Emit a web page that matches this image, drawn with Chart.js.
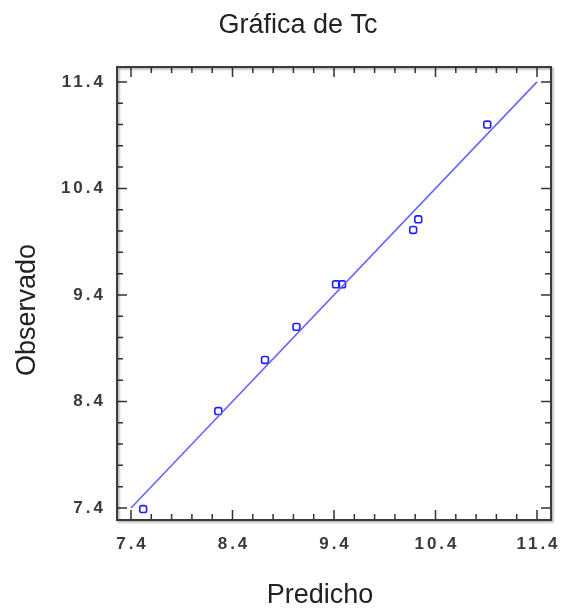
<!DOCTYPE html>
<html>
<head>
    <meta charset="utf-8">
    <title>Gráfica de Tc</title>
    <script src="https://cdn.jsdelivr.net/npm/chart.js"></script>
    <style>
        body { margin: 0; background: #fff; }
        #wrap { width: 563px; height: 610px; }
    </style>
</head>
<body>
    <div id="wrap"><canvas id="myChart" width="563" height="610"></canvas></div>
    <script>
        // predicted vs observed values
        const predicho = [7.52, 8.26, 8.72, 9.03, 9.42, 9.48, 10.18, 10.23, 10.91];
        const observado = [7.39, 8.31, 8.79, 9.10, 9.50, 9.50, 10.01, 10.11, 11.00];
        // fitted line y = x
        const lineX = [7.4, 11.4];
        const lineY = [7.4, 11.4];
        const tickValues = [7.4, 8.4, 9.4, 10.4, 11.4];
        const titleText = 'Gráfica de Tc';
        const xTitle = 'Predicho';
        const yTitle = 'Observado';

        const points = predicho.map((v, i) => ({ x: v, y: observado[i] }));
        const fit = lineX.map((v, i) => ({ x: v, y: lineY[i] }));

        function minorTicks() {
            let out = [];
            for (let i = 0; i < tickValues.length - 1; i++) {
                let step = (tickValues[i + 1] - tickValues[i]) / 5;
                for (let k = 1; k < 5; k++) out.push(tickValues[i] + k * step);
            }
            return out;
        }

        const frame = {
            id: 'frame',
            beforeDraw(chart) {
                chart.ctx.letterSpacing = '3px';
            },
            beforeDatasetsDraw(chart) {
                chart.ctx.letterSpacing = '0px';
                const { ctx, chartArea: a, scales } = chart;
                ctx.save();
                ctx.strokeStyle = '#333';
                ctx.lineWidth = 1.5;
                ctx.beginPath();
                const minor = minorTicks();
                const tick = (vals, len) => {
                    vals.forEach(v => {
                        let px = scales.x.getPixelForValue(v);
                        ctx.moveTo(px, a.bottom); ctx.lineTo(px, a.bottom - len);
                        ctx.moveTo(px, a.top); ctx.lineTo(px, a.top + len);
                        let py = scales.y.getPixelForValue(v);
                        ctx.moveTo(a.left, py); ctx.lineTo(a.left + len, py);
                        ctx.moveTo(a.right, py); ctx.lineTo(a.right - len, py);
                    });
                };
                tick(tickValues, 10);
                tick(minor, 6);
                ctx.stroke();
                ctx.shadowColor = 'rgba(0,0,0,0.35)';
                ctx.shadowOffsetX = 1.5;
                ctx.shadowOffsetY = 1.5;
                ctx.shadowBlur = 2;
                ctx.strokeStyle = '#3a3a3a';
                ctx.lineWidth = 2;
                ctx.strokeRect(a.left, a.top, a.right - a.left, a.bottom - a.top);
                ctx.restore();
            },
            afterDraw(chart) {
                const ctx = chart.ctx;
                ctx.save();
                ctx.letterSpacing = '0px';
                ctx.fillStyle = '#222';
                ctx.font = '27px "Liberation Sans", Arial, sans-serif';
                ctx.textAlign = 'center';
                ctx.textBaseline = 'alphabetic';
                ctx.fillText(titleText, 298, 33);
                ctx.fillText(xTitle, 320, 603);
                ctx.translate(35, 310);
                ctx.rotate(-Math.PI / 2);
                ctx.fillText(yTitle, 0, 0);
                ctx.restore();
            }
        };

        const tickFont = { family: '"Liberation Sans", Arial, sans-serif', size: 17, weight: 'bold' };

        const config = {
            type: 'scatter',
            data: {
                datasets: [{
                    type: 'line',
                    data: fit,
                    borderColor: '#6464ff',
                    borderWidth: 1.6,
                    pointRadius: 0,
                    fill: false
                }, {
                    data: points,
                    pointStyle: 'rectRounded',
                    pointRadius: 4,
                    borderColor: '#1e1eff',
                    backgroundColor: 'rgba(0,0,0,0)',
                    borderWidth: 1.6
                }]
            },
            options: {
                responsive: false,
                animation: false,
                layout: { padding: { left: 0, right: 12, top: 67, bottom: 0 } },
                plugins: {
                    legend: { display: false },
                    tooltip: { enabled: false }
                },
                scales: {
                    x: {
                        type: 'linear',
                        min: 7.262,
                        max: 11.538,
                        afterBuildTicks: s => { s.ticks = tickValues.map(v => ({ value: v })); },
                        afterFit: s => { s.height = 90; },
                        grid: { display: false },
                        border: { display: false },
                        ticks: {
                            font: tickFont,
                            color: '#3a3a3a',
                            padding: 6,
                            labelOffset: 1.5,
                            maxRotation: 0,
                            callback: v => v.toFixed(1)
                        }
                    },
                    y: {
                        type: 'linear',
                        min: 7.287,
                        max: 11.54,
                        afterBuildTicks: s => { s.ticks = tickValues.map(v => ({ value: v })); },
                        afterFit: s => { s.width = 117; },
                        grid: { display: false },
                        border: { display: false },
                        ticks: {
                            font: tickFont,
                            color: '#3a3a3a',
                            padding: 3,
                            callback: v => v.toFixed(1)
                        }
                    }
                }
            },
            plugins: [frame]
        };

        var myChart = new Chart(document.getElementById('myChart'), config);
    </script>
</body>
</html>
